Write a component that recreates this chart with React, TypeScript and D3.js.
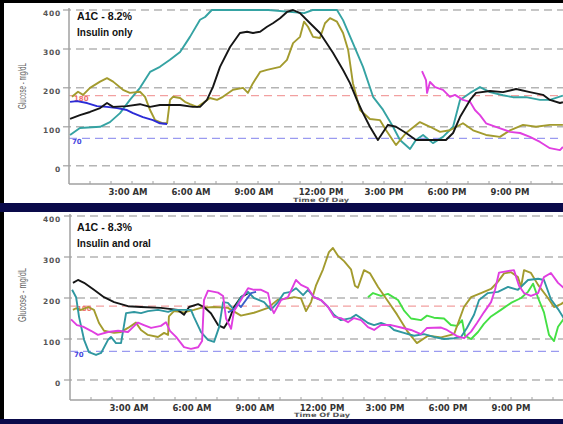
import React from "react";
import * as d3 from "d3";

// ---------- DATA (hour of day, glucose mg/dL) ----------
const xTickHours = [3, 6, 9, 12, 15, 18, 21];
const xTickLabels = ["3:00 AM", "6:00 AM", "9:00 AM", "12:00 PM", "3:00 PM", "6:00 PM", "9:00 PM"];
const yTickValues = [0, 100, 200, 300, 400];
const targetHigh = 180;
const targetLow = 70;

const topTitles = ["A1C - 8.2%", "Insulin only"];
const bottomTitles = ["A1C - 8.3%", "Insulin and oral"];

const topTeal: [number, number][] = [
  [0.05, 79], [0.52, 97], [1.48, 100], [1.95, 112], [2.43, 135], [2.9, 169], [3.38, 200], [3.86, 241],
  [4.33, 254], [4.81, 272], [5.29, 292], [5.76, 331], [6.24, 375], [6.48, 382], [6.8, 400], [9.5, 400],
  [11.2, 392], [11.6, 400], [12.76, 400], [13.05, 374], [13.52, 315], [14.0, 254], [14.48, 177],
  [14.95, 144], [15.43, 100], [15.76, 66], [16.24, 43], [16.52, 66], [16.86, 79], [17.33, 58],
  [17.81, 74], [18.29, 100], [18.62, 169], [19.1, 187], [19.57, 202], [20.05, 189], [20.67, 181],
  [21.14, 176], [21.76, 176], [22.43, 169], [22.9, 169], [23.52, 180],
];
const topBlack: [number, number][] = [
  [0.05, 120], [0.52, 130], [1.0, 138], [1.48, 148], [1.81, 161], [2.1, 151], [2.76, 153], [3.38, 158],
  [3.86, 151], [4.33, 156], [5.29, 156], [5.9, 151], [6.24, 151], [6.57, 169], [6.86, 203], [7.19, 254],
  [7.67, 305], [8.14, 341], [8.48, 344], [8.76, 341], [9.1, 344], [9.43, 357], [9.71, 366], [10.05, 379],
  [10.38, 395], [10.67, 400], [11.0, 392], [11.48, 366], [11.95, 341], [12.57, 290], [13.05, 246],
  [13.38, 212], [13.71, 169], [14.0, 135], [14.33, 100], [14.71, 66], [15.19, 105], [15.57, 100],
  [16.05, 84], [16.52, 66], [17.48, 66], [17.95, 66], [18.29, 84], [18.62, 125], [19.1, 169],
  [19.38, 187], [20.05, 192], [20.67, 189], [21.29, 197], [21.95, 189], [22.57, 182], [22.9, 169],
  [23.38, 161], [23.52, 163],
];
const topOlive: [number, number][] = [
  [0.14, 177], [0.43, 190], [0.67, 182], [1.0, 200], [1.48, 216], [1.81, 225], [2.1, 216], [2.57, 195],
  [2.9, 187], [3.38, 190], [3.62, 177], [3.86, 143], [4.1, 117], [4.48, 109], [4.67, 109], [4.81, 169],
  [4.95, 177], [5.29, 174], [5.52, 164], [5.76, 158], [6.1, 151], [6.38, 161], [6.71, 174], [7.05, 169],
  [7.33, 177], [7.81, 195], [8.29, 200], [8.52, 187], [8.76, 212], [9.1, 241], [9.43, 246], [10.05, 254],
  [10.38, 272], [10.67, 315], [11.0, 331], [11.19, 370], [11.38, 357], [11.62, 331], [11.95, 328],
  [12.19, 366], [12.43, 379], [12.76, 370], [13.05, 341], [13.29, 298], [13.52, 212], [13.86, 143],
  [14.33, 120], [14.81, 117], [15.1, 91], [15.57, 53], [16.05, 84], [16.71, 112], [17.19, 100],
  [17.67, 87], [18.14, 91], [18.76, 109], [19.24, 91], [19.86, 79], [20.52, 74], [21.0, 91],
  [21.62, 105], [22.24, 100], [22.9, 105], [23.52, 105],
];
const topBlue: [number, number][] = [
  [0.05, 164], [0.38, 166], [0.86, 161], [1.33, 153], [1.81, 151], [2.29, 148], [2.76, 143],
  [3.05, 135], [3.52, 125], [4.0, 117], [4.33, 109], [4.67, 107],
];
const topMagenta: [number, number][] = [
  [16.81, 243], [17.0, 220], [17.05, 187], [17.19, 215], [17.43, 202], [17.81, 195], [18.14, 177],
  [18.38, 182], [18.76, 169], [19.1, 164], [19.33, 143], [19.57, 130], [19.86, 109], [20.33, 100],
  [21.0, 87], [21.48, 84], [21.95, 74], [22.43, 61], [22.9, 45], [23.38, 40], [23.52, 48],
];

const bottomBlack: [number, number][] = [
  [0.14, 237], [0.38, 244], [0.67, 237], [1.14, 220], [1.62, 202], [2.1, 190], [2.76, 180], [3.38, 178],
  [4.33, 176], [5.14, 171], [5.43, 159], [5.67, 178], [6.1, 185], [6.38, 178], [6.71, 163], [7.05, 134],
  [7.33, 127], [7.57, 146], [7.81, 178], [8.14, 202], [8.48, 212],
];
const bottomTeal: [number, number][] = [
  [0.1, 220], [0.29, 202], [0.43, 154], [0.67, 98], [0.9, 68], [1.24, 61], [1.48, 66], [1.81, 98],
  [1.95, 105], [2.19, 90], [2.43, 90], [2.67, 163], [3.05, 166], [3.38, 163], [3.71, 168], [4.19, 171],
  [4.67, 166], [4.95, 171], [5.76, 171], [5.9, 154], [6.24, 117], [6.57, 98], [6.86, 93], [7.1, 129],
  [7.29, 190], [7.52, 188], [7.81, 171], [8.14, 202], [8.48, 215], [8.76, 200], [9.24, 190], [9.57, 171],
  [9.9, 190], [10.19, 212], [10.52, 215], [10.76, 224], [11.1, 207], [11.33, 220], [11.62, 202],
  [11.95, 195], [12.29, 178], [12.57, 159], [12.9, 146], [13.38, 151], [13.62, 159], [13.86, 151],
  [14.19, 139], [14.48, 134], [14.81, 139], [15.2, 132], [15.43, 122], [15.9, 115], [16.38, 108],
  [16.86, 112], [17.33, 105], [17.81, 100], [18.29, 102], [18.62, 105], [18.9, 127], [19.24, 159],
  [19.48, 195], [19.9, 212], [20.38, 215], [20.86, 227], [21.33, 220], [21.81, 244], [22.29, 247],
  [22.57, 244], [22.9, 197], [23.24, 173], [23.52, 150],
];
const bottomBlue: [number, number][] = [
  [7.52, 165], [7.81, 172], [8.0, 185], [8.14, 178], [8.38, 195], [8.62, 212], [8.86, 215],
];
const bottomOlive: [number, number][] = [
  [0.14, 171], [0.29, 175], [0.52, 171], [0.86, 178], [1.14, 171], [1.38, 139], [1.62, 120], [2.1, 115],
  [2.43, 117], [2.76, 127], [3.14, 140], [3.38, 122], [3.71, 110], [4.19, 105], [4.48, 115], [4.67, 110],
  [4.71, 155], [4.95, 168], [5.43, 165], [5.9, 171], [6.24, 176], [6.86, 178], [7.52, 176], [8.14, 157],
  [8.76, 164], [9.43, 176], [9.9, 196], [10.38, 199], [10.67, 202], [11.0, 199], [11.24, 168],
  [11.48, 190], [11.71, 230], [12.05, 270], [12.33, 312], [12.52, 322], [12.76, 303], [13.05, 290],
  [13.38, 270], [13.57, 230], [13.71, 225], [14.0, 268], [14.29, 260], [14.67, 227], [15.1, 195],
  [15.57, 160], [16.05, 120], [16.52, 90], [17.05, 108], [17.67, 104], [18.29, 112], [18.76, 178],
  [19.1, 202], [19.57, 212], [20.05, 222], [20.38, 240], [20.67, 260], [21.0, 263], [21.33, 251],
  [21.48, 227], [21.62, 268], [21.95, 261], [22.29, 232], [22.76, 200], [23.05, 178], [23.38, 185],
  [23.52, 190],
];
const bottomMagenta: [number, number][] = [
  [0.05, 148], [0.33, 134], [0.62, 130], [1.0, 120], [1.33, 110], [1.81, 117], [2.29, 120], [2.76, 117],
  [3.1, 134], [3.24, 140], [3.52, 134], [3.86, 127], [4.33, 132], [4.57, 141], [4.76, 120], [5.05, 105],
  [5.43, 80], [5.76, 76], [6.1, 80], [6.29, 95], [6.38, 195], [6.57, 218], [7.05, 213], [7.29, 205],
  [7.43, 150], [7.67, 125], [7.81, 168], [8.14, 195], [8.48, 224], [8.76, 220], [9.1, 220], [9.43, 212],
  [9.57, 178], [9.71, 163], [10.05, 195], [10.38, 202], [10.76, 244], [11.0, 232], [11.33, 224],
  [11.62, 202], [11.95, 195], [12.29, 178], [12.57, 154], [12.9, 151], [13.24, 141], [13.52, 151],
  [13.86, 146], [14.19, 129], [14.48, 122], [14.81, 134], [15.29, 134], [15.76, 128], [16.24, 122],
  [16.71, 112], [17.0, 127], [17.67, 128], [17.95, 122], [18.43, 107], [18.76, 102], [19.1, 118],
  [19.38, 139], [19.71, 165], [20.05, 190], [20.24, 220], [20.43, 262], [20.76, 265], [21.14, 268],
  [21.38, 230], [21.62, 212], [21.95, 205], [22.29, 212], [22.57, 251], [22.9, 261], [23.24, 237],
  [23.52, 224],
];
const bottomGreen: [number, number][] = [
  [14.19, 202], [14.43, 212], [14.81, 205], [15.14, 210], [15.62, 195], [15.9, 170], [16.24, 150],
  [16.71, 146], [17.0, 157], [17.33, 152], [17.81, 150], [18.14, 134], [18.43, 132], [18.67, 146],
  [18.81, 108], [19.1, 100], [19.43, 117], [19.71, 137], [20.05, 155], [20.52, 171], [21.0, 188],
  [21.48, 200], [21.81, 215], [22.05, 235], [22.29, 200], [22.57, 165], [22.81, 110], [23.05, 95],
  [23.24, 130], [23.52, 150],
];

// ---------- STYLE ----------
const W = 563;
const H = 424;
const C = {
  teal: "#35a3a3",
  black: "#161616",
  olive: "#a39b2e",
  blue: "#2b2bd6",
  magenta: "#e03ee0",
  green: "#44e044",
  tealB: "#2f97a0",
  blueB: "#3a5ec8",
};

type Series = { data: [number, number][]; color: string };

type PanelProps = {
  id: string;
  axisX: number;
  y0: number;
  y400: number;
  axisY: number;
  titles: string[];
  titleY: [number, number];
  series: Series[];
  yTitleCenter: number;
  yTitleLen: number;
  lowLabelX: number;
  highLabelX: number;
  dayLabelDy: number;
};

function Panel(p: PanelProps) {
  const x = d3.scaleLinear().domain([0, 24]).range([p.axisX, p.axisX + 504]);
  const y = d3.scaleLinear().domain([0, 400]).range([p.y0, p.y400]);
  const line = d3
    .line<[number, number]>()
    .x((d) => x(d[0]))
    .y((d) => y(Math.min(400, d[1])))
    .curve(d3.curveLinear);
  const hours = d3.range(1, 24);
  const tickFont = "'DejaVu Sans', Verdana, sans-serif";
  return (
    <g>
      <defs>
        <clipPath id={"clip-" + p.id}>
          <rect x={p.axisX} y={p.y400 - 3} width={W - p.axisX} height={p.axisY - p.y400 + 3} />
        </clipPath>
      </defs>
      {yTickValues.map((v) => (
        <line key={"g" + v} x1={p.axisX - 6} x2={W} y1={y(v)} y2={y(v)} stroke="#b4b4b4" strokeWidth={1.5} strokeDasharray="8 5" />
      ))}
      <line x1={p.axisX} x2={W} y1={y(targetHigh)} y2={y(targetHigh)} stroke="#f2a0a0" strokeWidth={1.2} strokeDasharray="8 5" />
      <line x1={p.axisX} x2={W} y1={y(targetLow)} y2={y(targetLow)} stroke="#9a9af0" strokeWidth={1.2} strokeDasharray="8 5" />
      <text x={p.highLabelX} y={y(targetHigh) + 3} fontFamily={tickFont} fontWeight="bold" fontSize={7} fill="#f07070" dominantBaseline="middle">{targetHigh}</text>
      <text x={p.lowLabelX} y={y(targetLow) + 3.5} fontFamily={tickFont} fontWeight="bold" fontSize={7} fill="#4848e0" dominantBaseline="middle">{targetLow}</text>
      <line x1={p.axisX} x2={p.axisX} y1={p.y400 - 2} y2={p.axisY} stroke="#a0a0a0" strokeWidth={1.5} />
      <line x1={p.axisX} x2={W} y1={p.axisY} y2={p.axisY} stroke="#a0a0a0" strokeWidth={1.5} />
      {hours.map((h) => (
        <line key={"t" + h} x1={x(h)} x2={x(h)} y1={p.axisY - 3} y2={p.axisY} stroke="#a0a0a0" strokeWidth={1} />
      ))}
      {yTickValues.map((v) => (
        <text key={"yl" + v} x={61} y={y(v) + 4} textAnchor="end" dominantBaseline="middle" fontFamily={tickFont} fontWeight="bold" fontSize={7.5} letterSpacing={0.8} fill="#555">
          {v}
        </text>
      ))}
      {xTickHours.map((h, i) => {
        const am = xTickLabels[i].includes("AM");
        return (
          <text key={"xl" + h} x={x(h) - (am ? 4 : 0)} y={p.axisY + 8} textAnchor="middle" dominantBaseline="middle" fontFamily={tickFont} fontWeight="bold" fontSize={8.5} fill="#333">
            {xTickLabels[i]}
          </text>
        );
      })}
      <text x={x(12)} y={p.axisY + p.dayLabelDy} textAnchor="middle" dominantBaseline="middle" fontFamily={tickFont} fontWeight="bold" fontSize={6} fill="#555" textLength={56} lengthAdjust="spacingAndGlyphs">
        Time Of Day
      </text>
      <text
        transform={`translate(23,${p.yTitleCenter}) rotate(-90)`}
        textAnchor="middle"
        dominantBaseline="middle"
        fontFamily="'Liberation Sans', Arial, sans-serif"
        fontSize={11}
        fill="#666"
        textLength={p.yTitleLen}
        lengthAdjust="spacingAndGlyphs"
      >
        Glucose - mg/dL
      </text>
      <g clipPath={`url(#clip-${p.id})`}>
        {p.series.map((s, i) => (
          <path key={"s" + i} d={line(s.data) || ""} fill="none" stroke={s.color} strokeWidth={1.9} strokeLinejoin="round" />
        ))}
      </g>
      <text x={77} y={p.titleY[0]} dominantBaseline="middle" fontFamily="'Liberation Sans', Arial, sans-serif" fontWeight="bold" fontSize={10} fill="#111" textLength={55} lengthAdjust="spacingAndGlyphs">
        {p.titles[0]}
      </text>
      <text x={77} y={p.titleY[1]} dominantBaseline="middle" fontFamily="'Liberation Sans', Arial, sans-serif" fontWeight="bold" fontSize={10} fill="#111">
        {p.titles[1]}
      </text>
    </g>
  );
}

export default function App() {
  return (
    <svg width={W} height={H} style={{ position: "absolute", left: 0, top: 0, background: "#fff" }}>
      <rect x={0} y={0} width={W} height={H} fill="#fff" />
      <Panel
        id="top"
        axisX={69}
        y0={165.7}
        y400={10}
        axisY={184}
        titles={topTitles}
        titleY={[17, 33]}
        yTitleCenter={86}
        yTitleLen={46}
        lowLabelX={72}
        highLabelX={74}
        dayLabelDy={16.5}
        series={[
          { data: topTeal, color: C.teal },
          { data: topOlive, color: C.olive },
          { data: topBlue, color: C.blue },
          { data: topMagenta, color: C.magenta },
          { data: topBlack, color: C.black },
        ]}
      />
      <Panel
        id="bottom"
        axisX={70}
        y0={380}
        y400={216}
        axisY={400}
        titles={bottomTitles}
        titleY={[228, 244]}
        yTitleCenter={295}
        yTitleLen={54}
        lowLabelX={74}
        highLabelX={77}
        dayLabelDy={15.5}
        series={[
          { data: bottomGreen, color: C.green },
          { data: bottomOlive, color: C.olive },
          { data: bottomBlack, color: C.black },
          { data: bottomTeal, color: C.tealB },
          { data: bottomBlue, color: C.blueB },
          { data: bottomMagenta, color: C.magenta },
        ]}
      />
      <rect x={0} y={0} width={W} height={3} fill="#000" />
      <rect x={0} y={0} width={4} height={H} fill="#000" />
      <rect x={0} y={203} width={W} height={9} fill="#0a0a4a" />
      <rect x={0} y={419} width={W} height={5} fill="#0a0a4a" />
    </svg>
  );
}
